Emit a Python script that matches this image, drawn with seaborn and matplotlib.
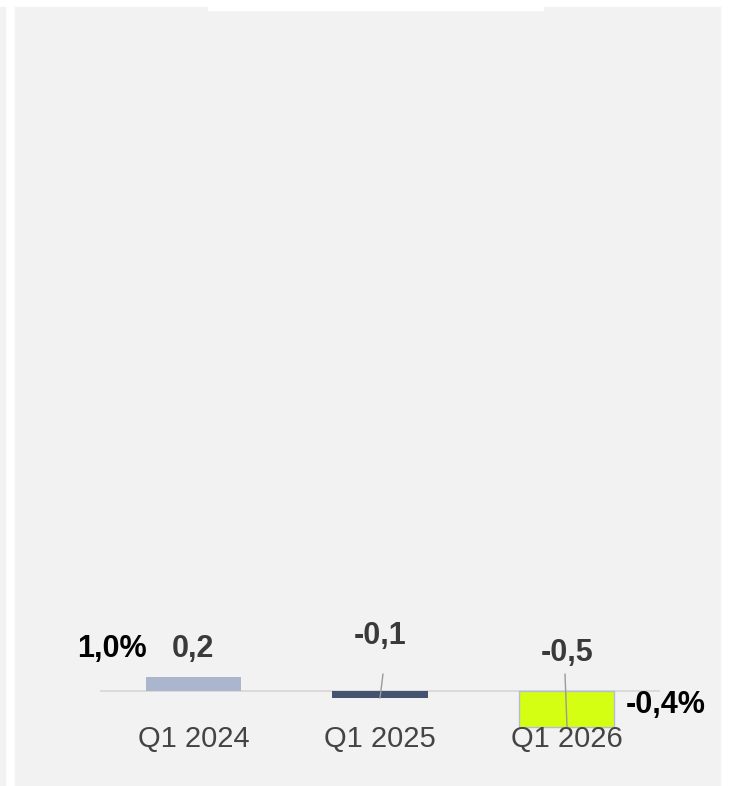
import matplotlib.pyplot as plt
import seaborn as sns
import pandas as pd
from matplotlib.patches import Rectangle

# data
quarters = ["Q1 2024", "Q1 2025", "Q1 2026"]
changes = [0.2, -0.1, -0.5]
value_labels = ["0,2", "-0,1", "-0,5"]
bar_colors = ["#aab6cd", "#44536f", "#d4ff12"]
left_label = "1,0%"
right_label = "-0,4%"

df = pd.DataFrame({"quarter": quarters, "change": changes})

W, H = 731, 786
sns.set_theme(style="white")
plt.rcParams["font.family"] = ["Liberation Sans", "DejaVu Sans"]

fig = plt.figure(figsize=(W / 100, H / 100), dpi=100, facecolor="white")

# background panels (pixel boxes -> figure fraction), drawn behind the axes
def box(x0, y0, x1, y1, color):
    fig.patches.append(Rectangle((x0 / W, 1 - y1 / H), (x1 - x0) / W, (y1 - y0) / H,
                                 transform=fig.transFigure, color=color, zorder=-5))

box(0, 7, 5, 786, "#f2f2f2")
box(15, 7, 720, 786, "#f2f2f2")
box(208, 0, 543, 10, "white")

# axes: x 100..660 px, y 10..780 px, zero line at y=691
ZERO = 691
ppu = 71.0
ax = fig.add_axes([100 / W, 1 - 780 / H, 560 / W, 770 / H])
ax.set_facecolor("none")
ax.set_zorder(1)

sns.barplot(data=df, x="quarter", y="change", hue="quarter", palette=bar_colors,
            saturation=1, width=0.51, legend=False, ax=ax, zorder=2,
            linewidth=0)
ax.patches[2].set_edgecolor("#b4bdd3")
ax.patches[2].set_linewidth(1.0)
ax.set_xlim(-0.5, 2.5)
ax.set_ylim(-(780 - ZERO) / ppu, (ZERO - 10) / ppu)
ax.axhline(0, color="#d6d6d6", lw=1.2, zorder=1)

for s in ax.spines.values():
    s.set_visible(False)
ax.set_xlabel("")
ax.set_ylabel("")
ax.set_yticks([])
ax.set_xticks([])


def py(px):
    return (ZERO - px) / ppu


def px_x(px):
    return (px - 100) / ((660 - 100) / 3) - 0.5


# category labels
for i, q in enumerate(quarters):
    ax.text(i, py(747), q, ha="center", va="baseline", fontsize=21,
            color="#444444", zorder=3)

# value labels
val_base = [657, 644, 661]
for i, lab in enumerate(value_labels):
    ax.text(i, py(val_base[i]), lab, ha="center", va="baseline", fontsize=22,
            fontweight="bold", color="#3a3a3a", zorder=3)

# leader lines for the negative bars
ax.plot([px_x(383), px_x(380)], [py(674), changes[1]], color="#9a9a9a", lw=1, zorder=3)
ax.plot([px_x(565), px_x(567)], [py(674), changes[2]], color="#9a9a9a", lw=1, zorder=3)

# side labels
ax.text(px_x(112), py(657), left_label, ha="center", va="baseline",
        fontsize=22, fontweight="bold", color="black", clip_on=False)
ax.text(px_x(666), py(713), right_label, ha="center", va="baseline",
        fontsize=22, fontweight="bold", color="black", clip_on=False)

fig.savefig("out.png", dpi=100, facecolor="white")
